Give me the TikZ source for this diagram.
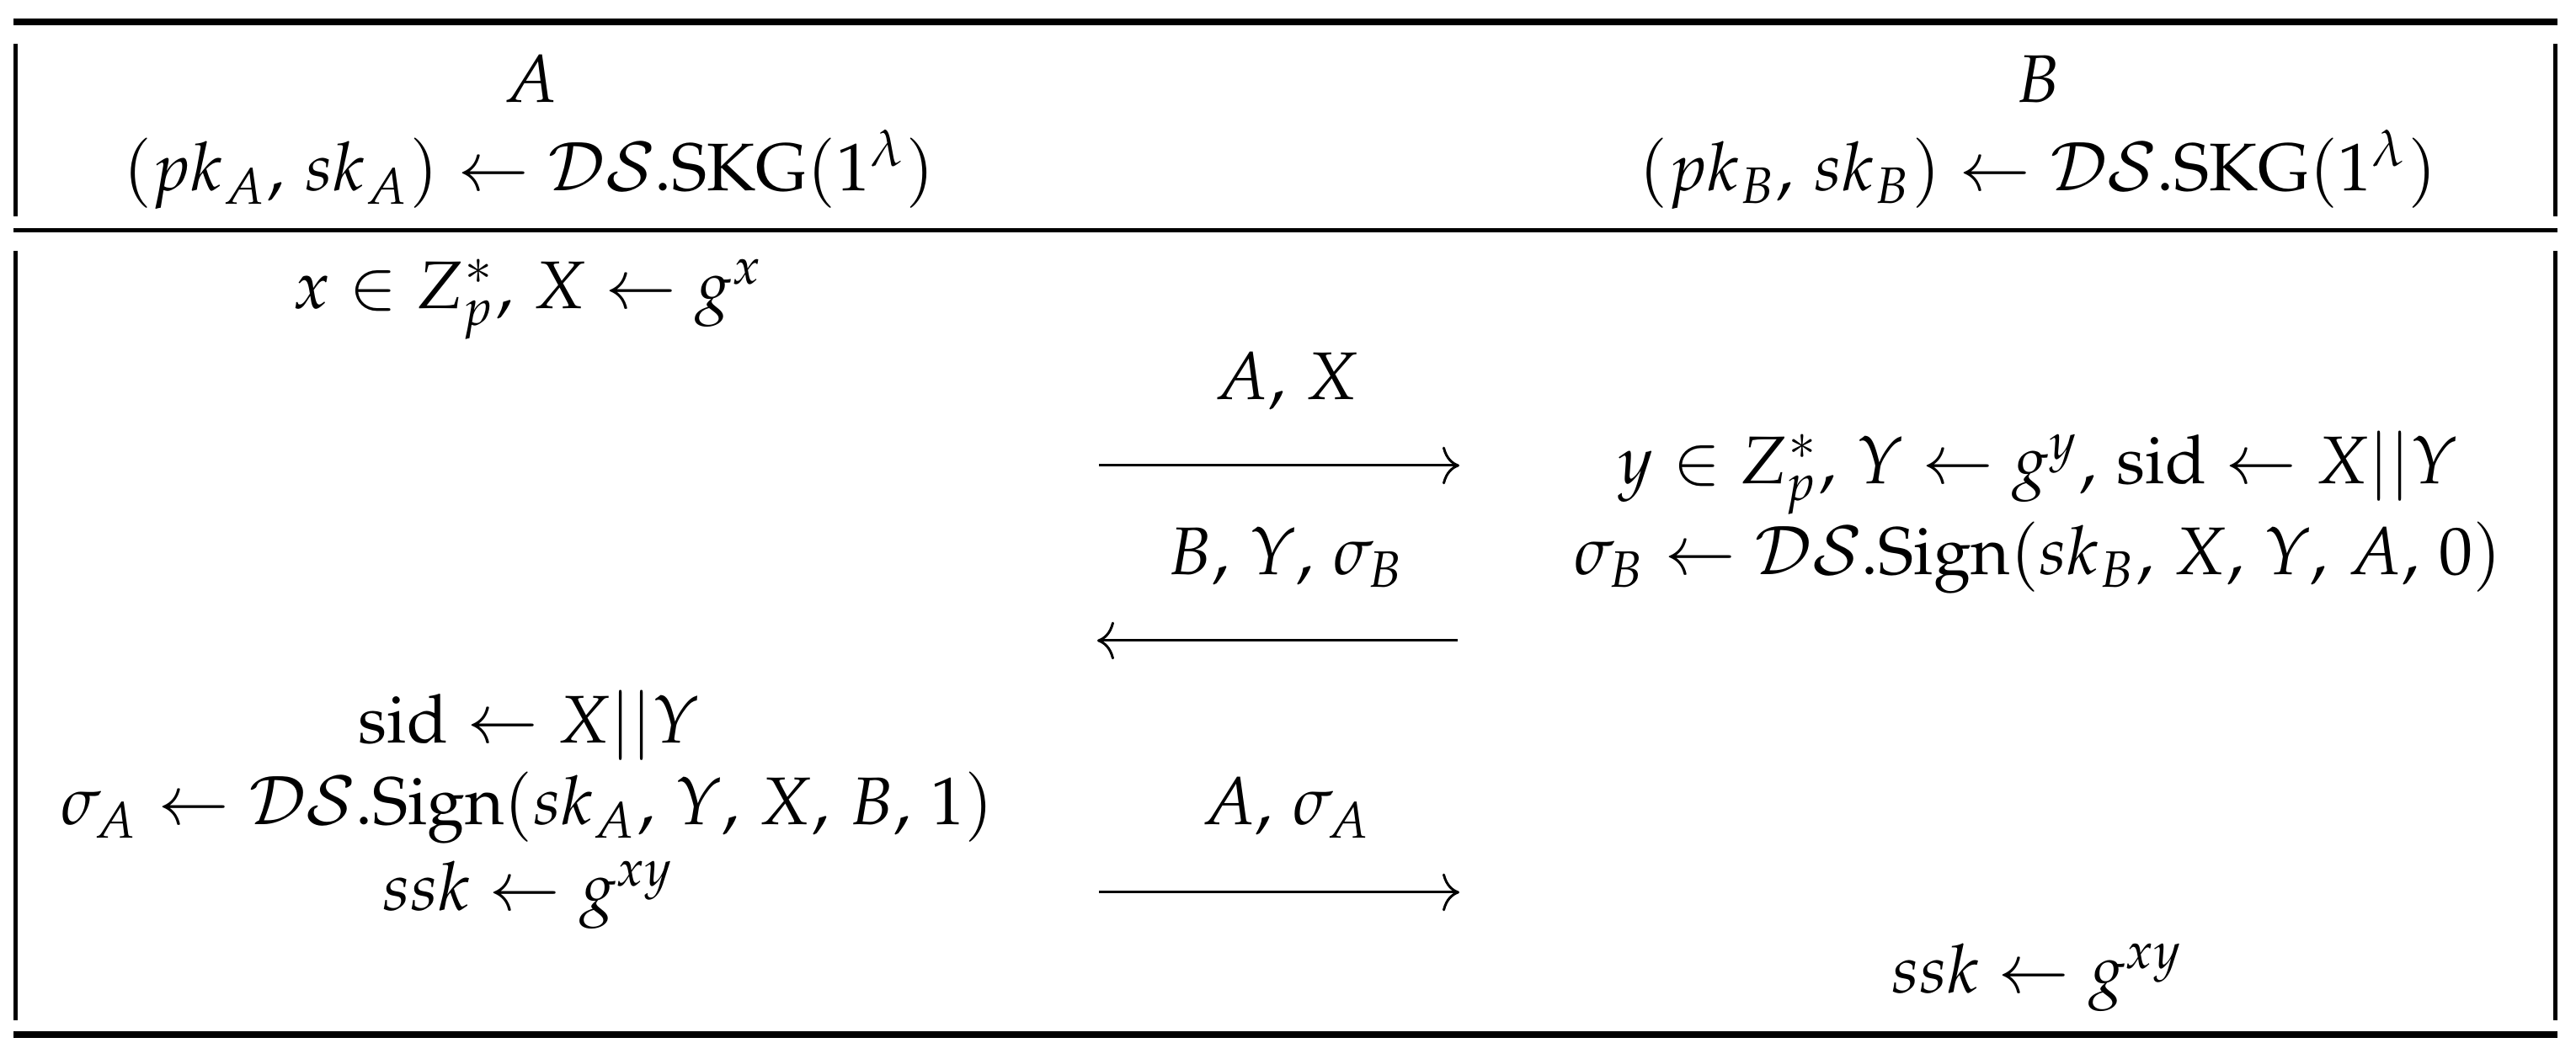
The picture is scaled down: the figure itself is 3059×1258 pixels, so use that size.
\documentclass[tikz,border=0pt]{standalone}
\usepackage[T1]{fontenc}
\usepackage{mathpazo}
\usetikzlibrary{arrows.meta}
\newcommand\pcm{,\mskip 2.5mu\relax}
\tikzset{
  lbl/.style={anchor=base, inner sep=0pt, outer sep=0pt, font=\fontsize{10}{12}\selectfont},
  heavyrule/.style={line width=1pt},
  lightrule/.style={line width=0.625pt},
  vrule/.style={line width=0.625pt},
  msg/.style={-{Computer Modern Rightarrow[length=2.5pt,width=5.6pt]}, line width=0.37pt},
}
\begin{document}
\begin{tikzpicture}[x=0.125pt,y=-0.125pt]
\useasboundingbox (0,0) rectangle (3059,1258);
% rules
\coordinate (tl) at (16,26);   \coordinate (tr) at (3037,26);
\coordinate (ml) at (16,273.5); \coordinate (mr) at (3037,273.5);
\coordinate (bl) at (16,1229); \coordinate (br) at (3037,1229);
\draw[heavyrule] (tl) -- (tr);
\draw[lightrule] (ml) -- (mr);
\draw[heavyrule] (bl) -- (br);
% vertical lines
\coordinate (hl1) at (18.5,52);   \coordinate (hl2) at (18.5,257);
\coordinate (hr1) at (3034.5,52); \coordinate (hr2) at (3034.5,257);
\coordinate (bl1) at (18.5,298);  \coordinate (bl2) at (18.5,1212);
\coordinate (br1) at (3034.5,298);\coordinate (br2) at (3034.5,1212);
\draw[vrule] (hl1) -- (hl2);
\draw[vrule] (hr1) -- (hr2);
\draw[vrule] (bl1) -- (bl2);
\draw[vrule] (br1) -- (br2);
% header
\node[lbl] (hA) at (630,122) {$A$};
\node[lbl] (hAk) at (628,227) {$(pk_A\pcm sk_A) \leftarrow \mathcal{DS}.\mathrm{SKG}(1^\lambda)$};
\node[lbl] (hB) at (2420,122) {$B$};
\node[lbl] (hBk) at (2420,227) {$(pk_B\pcm sk_B) \leftarrow \mathcal{DS}.\mathrm{SKG}(1^\lambda)$};
% body left
\node[lbl] (l1) at (628,367) {$x \in Z_p^*\pcm X \leftarrow g^x$};
\node[lbl] (l2) at (628,883) {$\mathrm{sid} \leftarrow X||Y$};
\node[lbl] (l3) at (626,980) {$\sigma_A \leftarrow \mathcal{DS}.\mathrm{Sign}(sk_A\pcm Y\pcm X\pcm B\pcm 1)$};
\node[lbl] (l4) at (628,1082) {$ssk \leftarrow g^{xy}$};
% body middle
\node[lbl] (m1) at (1528,475) {$A\pcm X$};
\node[lbl] (m2) at (1528,683) {$B\pcm Y\pcm \sigma_B$};
\node[lbl] (m3) at (1528,980) {$A\pcm \sigma_A$};
% body right
\node[lbl] (r1) at (2420,575) {$y \in Z_p^*\pcm Y \leftarrow g^y\pcm \mathrm{sid} \leftarrow X||Y$};
\node[lbl] (r2) at (2420,683) {$\sigma_B \leftarrow \mathcal{DS}.\mathrm{Sign}(sk_B\pcm X\pcm Y\pcm A\pcm 0)$};
\node[lbl] (r3) at (2420,1180) {$ssk \leftarrow g^{xy}$};
% arrows
\coordinate (a1s) at (1305,553); \coordinate (a1e) at (1733,553);
\coordinate (a2s) at (1731,761); \coordinate (a2e) at (1303,761);
\coordinate (a3s) at (1305,1060); \coordinate (a3e) at (1733,1060);
\draw[msg] (a1s) -- (a1e);
\draw[msg] (a2s) -- (a2e);
\draw[msg] (a3s) -- (a3e);
\end{tikzpicture}
\end{document}
